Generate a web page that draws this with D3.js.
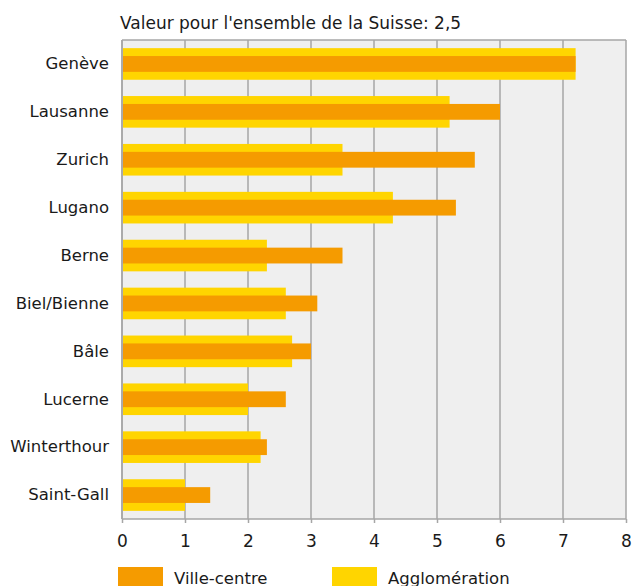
<!DOCTYPE html>
<html>
<head>
<meta charset="utf-8">
<script src="https://cdn.jsdelivr.net/npm/d3@7"></script>
<style>
  body { margin: 0; background: #fff; }
  text { font-family: "DejaVu Sans", "Open Sans", sans-serif; fill: #1a1a1a; }
</style>
</head>
<body>
<svg id="chart" width="633" height="586"></svg>
<script>
// data
var villes = ["Genève", "Lausanne", "Zurich", "Lugano", "Berne", "Biel/Bienne", "Bâle", "Lucerne", "Winterthour", "Saint-Gall"];
var villeCentre = [7.2, 6.0, 5.6, 5.3, 3.5, 3.1, 3.0, 2.6, 2.3, 1.4];
var agglomeration = [7.2, 5.2, 3.5, 4.3, 2.3, 2.6, 2.7, 2.0, 2.2, 1.0];
var xTicks = [0, 1, 2, 3, 4, 5, 6, 7, 8];
var titre = "Valeur pour l'ensemble de la Suisse: 2,5";

var pLeft = 122, pRight = 626, pTop = 40, pBottom = 519;
var orange = "#f59b00", jaune = "#ffd500", grille = "#a6a6a6";
var fs = 16.5;

var svg = d3.select("#chart");

var x = d3.scaleLinear().domain([0, 8]).range([pLeft, pRight]);
var y = d3.scaleBand().domain(villes).range([pTop, pBottom]).paddingInner(0.34).paddingOuter(0.17);

// plot background
svg.append("rect")
    .attr("x", pLeft).attr("y", pTop)
    .attr("width", pRight - pLeft).attr("height", pBottom - pTop)
    .attr("fill", "#efefef");

// vertical grid
svg.selectAll("line.grid")
    .data(xTicks)
  .enter().append("line")
    .attr("class", "grid")
    .attr("x1", function(d){ return x(d); })
    .attr("x2", function(d){ return x(d); })
    .attr("y1", pTop).attr("y2", pBottom)
    .attr("stroke", grille).attr("stroke-width", 1.5);

// top border
svg.append("line")
    .attr("x1", pLeft).attr("x2", pRight)
    .attr("y1", pTop).attr("y2", pTop)
    .attr("stroke", grille).attr("stroke-width", 1.5);

// agglomeration bars (wide, behind)
svg.selectAll("rect.aggl")
    .data(villes)
  .enter().append("rect")
    .attr("class", "aggl")
    .attr("x", x(0) + 1)
    .attr("y", function(d){ return y(d); })
    .attr("width", function(d, i){ return x(agglomeration[i]) - x(0) - 1; })
    .attr("height", y.bandwidth())
    .attr("fill", jaune);

// ville-centre bars (narrow, in front)
var hOrange = y.bandwidth() * 0.5;
svg.selectAll("rect.ville")
    .data(villes)
  .enter().append("rect")
    .attr("class", "ville")
    .attr("x", x(0) + 1)
    .attr("y", function(d){ return y(d) + (y.bandwidth() - hOrange) / 2; })
    .attr("width", function(d, i){ return x(villeCentre[i]) - x(0) - 1; })
    .attr("height", hOrange)
    .attr("fill", orange);

// x axis
var xAxis = svg.append("g")
    .attr("transform", "translate(0," + pBottom + ")")
    .call(d3.axisBottom(x).tickValues(xTicks).tickSize(4).tickPadding(12).tickFormat(d3.format("d")));
xAxis.select(".domain").attr("stroke", grille).attr("stroke-width", 1.5).attr("d", "M" + pLeft + ",0H" + pRight);
xAxis.selectAll(".tick line").attr("stroke", grille).attr("stroke-width", 1.5);
xAxis.selectAll(".tick text").attr("font-size", 17).attr("font-family", null).attr("fill", "#1a1a1a");

// y axis line + labels
var yAxis = svg.append("g")
    .attr("transform", "translate(" + pLeft + ",0)")
    .call(d3.axisLeft(y).tickSize(0).tickPadding(13));
yAxis.select(".domain").attr("stroke", grille).attr("stroke-width", 1.5).attr("d", "M0," + pTop + "V" + pBottom);
yAxis.selectAll(".tick text").attr("font-size", fs).attr("font-family", null).attr("fill", "#1a1a1a");

// title
svg.append("text")
    .attr("x", pLeft - 2).attr("y", 29)
    .attr("font-size", 17)
    .text(titre);

// legend
var legende = [{ nom: "Ville-centre", c: orange, x: 118 }, { nom: "Agglomération", c: jaune, x: 332 }];
var lg = svg.selectAll("g.leg")
    .data(legende)
  .enter().append("g")
    .attr("class", "leg")
    .attr("transform", function(d){ return "translate(" + d.x + ",567)"; });
lg.append("rect").attr("width", 45).attr("height", 22).attr("fill", function(d){ return d.c; });
lg.append("text").attr("x", 56).attr("y", 17).attr("font-size", fs).text(function(d){ return d.nom; });
</script>
</body>
</html>
